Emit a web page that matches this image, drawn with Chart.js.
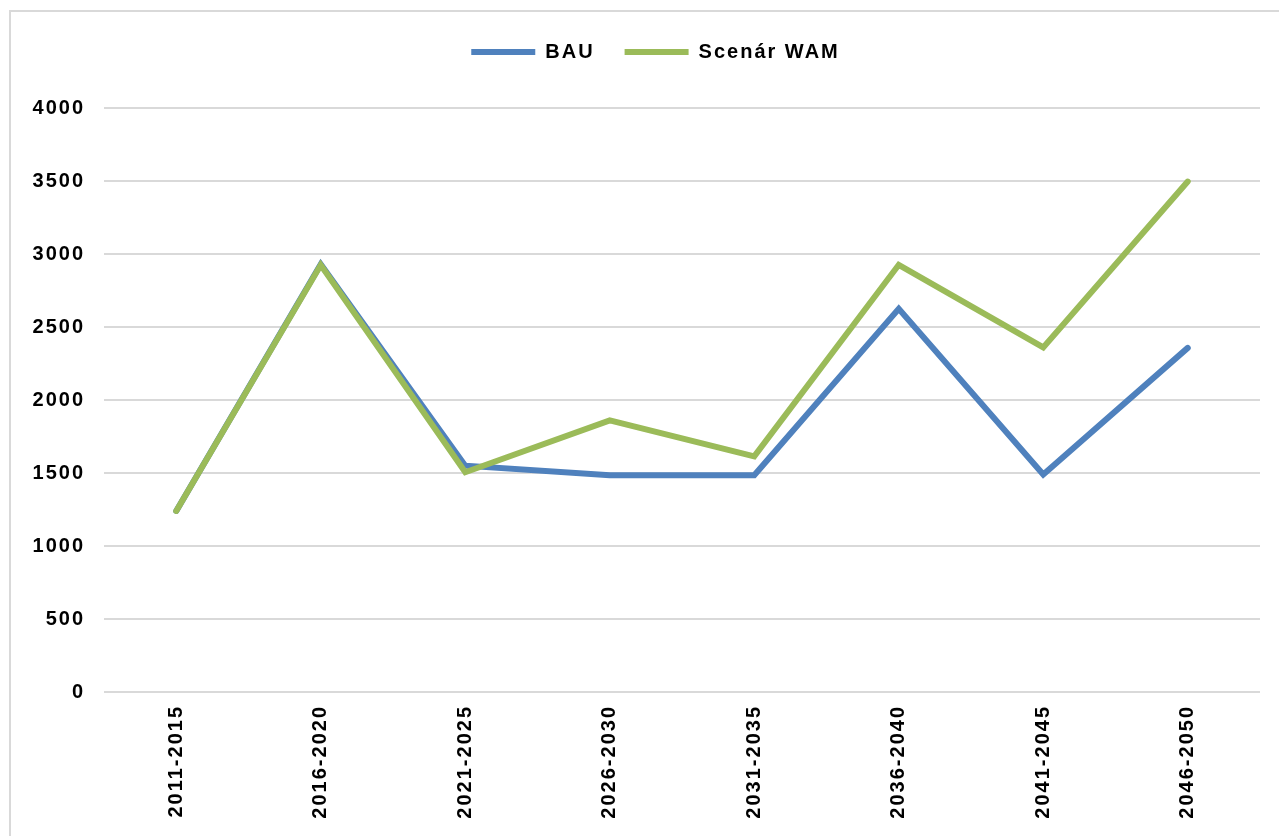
<!DOCTYPE html>
<html>
<head>
<meta charset="utf-8">
<script src="https://cdn.jsdelivr.net/npm/chart.js@4/dist/chart.umd.min.js"></script>
<style>
  html, body { margin: 0; padding: 0; background: #fff; overflow: hidden; }
  #frame {
    position: absolute; left: 9px; top: 10px;
    width: 1288px; height: 840px;
    border: 2px solid #d9d9d9;
  }
  #chart { display: block; }
</style>
</head>
<body>
<div id="frame"><canvas id="chart" width="1288" height="840"></canvas></div>
<script>
  // Periods on the x axis
  const periods = [
    "2011-2015", "2016-2020", "2021-2025", "2026-2030",
    "2031-2035", "2036-2040", "2041-2045", "2046-2050"
  ];

  // Values
  const bauValues = [1240, 2930, 1550, 1485, 1485, 2625, 1490, 2357];
  const wamValues = [1240, 2925, 1505, 1860, 1614, 2926, 2360, 3496];

  const seriesNames = ["BAU", "Scenár WAM"];
  const seriesColors = ["#4f81bd", "#9bbb59"];

  const yMin = 0, yMax = 4000, yStep = 500;

  const FONT = "'Liberation Sans', Arial, sans-serif";

  // the reference text is set wide, so space the letters a bit
  const wideText = {
    id: "wideText",
    beforeUpdate(chart) { chart.ctx.letterSpacing = "2px"; },
    beforeDraw(chart) { chart.ctx.letterSpacing = "2px"; }
  };

  // room under the legend, and nudge it right like the reference
  const legendSpacer = {
    id: "legendSpacer",
    beforeInit(chart) {
      const fit = chart.legend.fit;
      chart.legend.fit = function () {
        fit.call(chart.legend);
        this.height += 36;
      };
    },
    afterLayout(chart) {
      chart.legend.left += 20;
      chart.legend.right += 20;
    }
  };

  new Chart(document.getElementById("chart").getContext("2d"), {
    type: "line",
    data: {
      labels: periods,
      datasets: [
        {
          label: seriesNames[0],
          data: bauValues,
          order: 1,
          borderColor: seriesColors[0],
          backgroundColor: seriesColors[0],
          borderWidth: 6,
          pointRadius: 0,
          pointStyle: "line",
          borderCapStyle: "round",
          borderJoinStyle: "miter",
          tension: 0
        },
        {
          label: seriesNames[1],
          data: wamValues,
          order: 0, // green is drawn over blue
          borderColor: seriesColors[1],
          backgroundColor: seriesColors[1],
          borderWidth: 6,
          pointRadius: 0,
          pointStyle: "line",
          borderCapStyle: "round",
          borderJoinStyle: "miter",
          tension: 0
        }
      ]
    },
    options: {
      responsive: false,
      animation: false,
      layout: { padding: { top: 0, right: 39, bottom: 0, left: 0 } },
      plugins: {
        legend: {
          position: "top",
          labels: {
            usePointStyle: true,
            pointStyle: "line",
            pointStyleWidth: 64,
            boxHeight: 20,
            padding: 30,
            color: "#000",
            font: { family: FONT, size: 20, weight: "bold" },
            sort: (a, b) => a.datasetIndex - b.datasetIndex
          }
        },
        tooltip: { enabled: false }
      },
      scales: {
        x: {
          offset: true,
          grid: { display: false },
          border: { display: false },
          ticks: {
            autoSkip: false,
            minRotation: 90,
            maxRotation: 90,
            padding: 5,
            color: "#000",
            font: { family: FONT, size: 20, weight: "bold" }
          },
          afterFit(scale) { scale.height = 160; }
        },
        y: {
          min: yMin,
          max: yMax,
          grid: { color: "#d9d9d9", lineWidth: 2, drawTicks: false },
          border: { display: false },
          ticks: {
            stepSize: yStep,
            padding: 19,
            color: "#000",
            font: { family: FONT, size: 20, weight: "bold" },
            callback: (v) => String(v)
          },
          afterFit(scale) { scale.width = 93; }
        }
      }
    },
    plugins: [wideText, legendSpacer]
  });
</script>
</body>
</html>
